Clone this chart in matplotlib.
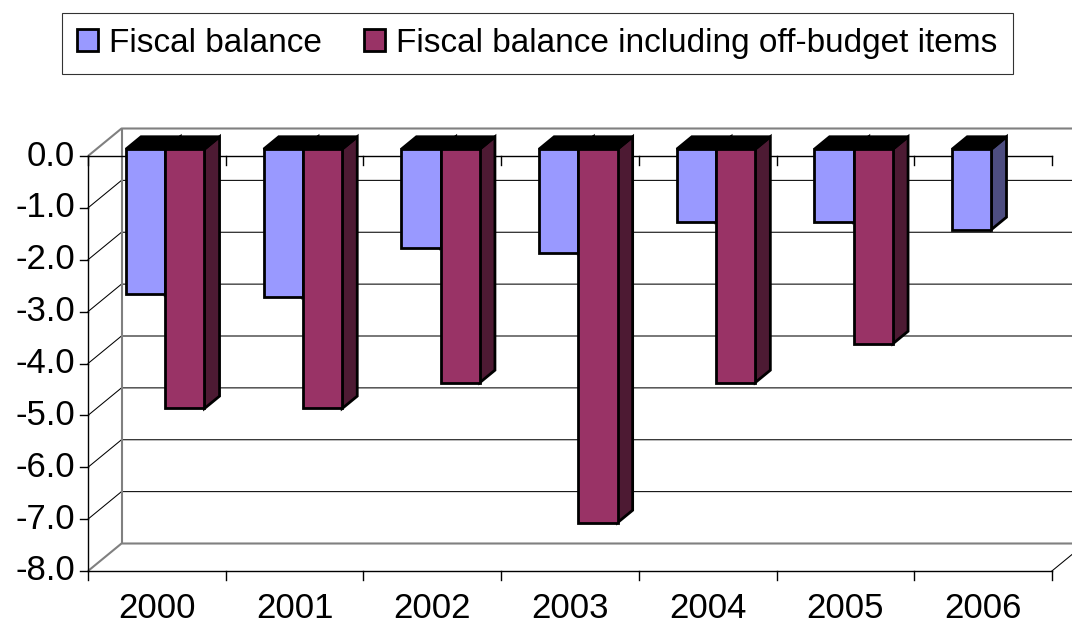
import numpy as np
import matplotlib.pyplot as plt
from matplotlib.patches import Polygon, Patch

plt.rcParams['font.family'] = ['Liberation Sans', 'DejaVu Sans']

# data
years = ['2000', '2001', '2002', '2003', '2004', '2005', '2006']
fiscal = [-2.8, -2.85, -1.9, -2.0, -1.4, -1.4, -1.55]
fiscal_offbudget = [-5.0, -5.0, -4.5, -7.2, -4.5, -3.75, np.nan]
yticks = [0, -1, -2, -3, -4, -5, -6, -7, -8]
series_names = ['Fiscal balance', 'Fiscal balance including off-budget items']

# colours (front face, side face)
face_cols = ['#9999FF', '#993366']
side_cols = ['#4D4D80', '#4D1A33']

# pseudo-3d geometry, in data units
PX = 137.7      # pixels per category
PY = 51.875     # pixels per unit value
DX = 33.5 / PX  # full depth shift in x
DY = 27.5 / PY  # full depth shift in y
d0, d1 = 0.25, 0.70   # bar depth range
gap = 0.215
bw = 0.285
ncat = len(years)

fig = plt.figure(figsize=(10.72, 6.26), dpi=100)
ax = fig.add_axes([0, 0, 1, 1])
ax.set_xlim(-88 / PX, (1072 - 88) / PX)
ax.set_ylim(-(626 - 156) / PY, 156 / PY)
ax.axis('off')
xmax = (1072 - 88) / PX

# walls and gridlines
for v in yticks[1:-1]:
    ax.plot([0, DX, xmax], [v, v + DY, v + DY], color='black', lw=0.75, zorder=1)
wall = dict(color='#808080', lw=1.5, zorder=1, solid_capstyle='butt')
ax.plot([0, DX, xmax], [0, DY, DY], **wall)
ax.plot([0, DX, xmax], [-8, -8 + DY, -8 + DY], **wall)
ax.plot([DX, DX], [-8 + DY, DY], **wall)
ax.plot([ncat, ncat + DX], [-8, -8 + DY], color='black', lw=0.75, zorder=1)

# front axes
ax.plot([0, 0], [-8, 0], color='black', lw=1, zorder=1)
ax.plot([0, ncat], [0, 0], color='black', lw=1, zorder=1)
ax.plot([0, ncat], [-8, -8], color='black', lw=1, zorder=1)
for v in yticks:
    ax.plot([-8 / PX, 0], [v, v], color='black', lw=1, zorder=1)
    ax.text(-13 / PX, v, f'{v:.1f}', ha='right', va='center', fontsize=25)
for i in range(ncat + 1):
    ax.plot([i, i], [0, -9 / PY], color='black', lw=1, zorder=1)
    ax.plot([i, i], [-8, -8 - 9 / PY], color='black', lw=1, zorder=1)
for i, yr in enumerate(years):
    ax.text(i + 0.5, -(608 - 156) / PY, yr, ha='center', va='center', fontsize=25)

# bars
z = 2
for i in range(ncat):
    for s, vals in enumerate([fiscal, fiscal_offbudget]):
        v = vals[i]
        if np.isnan(v):
            continue
        x0 = i + gap + s * bw
        fx, fy = x0 + d0 * DX, d0 * DY
        bx, by = x0 + d1 * DX, d1 * DY
        side = Polygon([(fx + bw, fy), (bx + bw, by), (bx + bw, by + v), (fx + bw, fy + v)],
                       closed=True, facecolor=side_cols[s], edgecolor='black', lw=2, zorder=z)
        top = Polygon([(fx, fy), (fx + bw, fy), (bx + bw, by), (bx, by)],
                      closed=True, facecolor='black', edgecolor='black', lw=2, zorder=z)
        ax.add_patch(side)
        ax.add_patch(top)
        ax.bar(fx, v, width=bw, bottom=fy, align='edge', color=face_cols[s],
               edgecolor='black', linewidth=2, zorder=z + 0.5)
        z += 1

# legend
handles = [Patch(facecolor=face_cols[k], edgecolor='black', lw=2) for k in range(2)]
leg = fig.legend(handles, series_names, loc='upper left', ncol=2,
                 bbox_to_anchor=(62 / 1072, 1 - 13 / 626), borderaxespad=0,
                 fontsize=24, frameon=True, fancybox=False,
                 handlelength=0.62, handleheight=0.62, handletextpad=0.35,
                 columnspacing=1.25, borderpad=0.45)
leg.get_frame().set_edgecolor('black')
leg.get_frame().set_linewidth(0.8)

fig.savefig('out.png', dpi=100)
